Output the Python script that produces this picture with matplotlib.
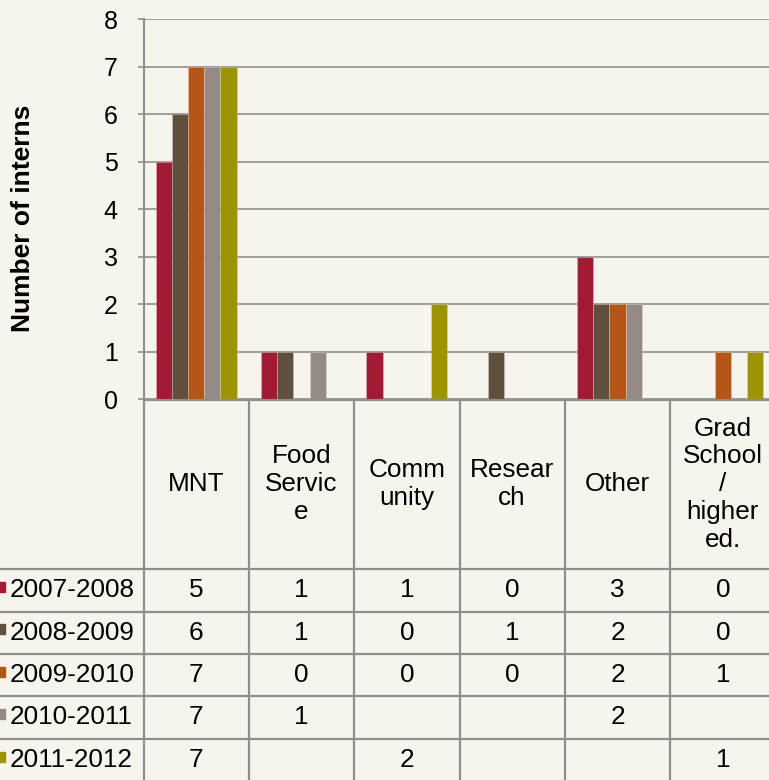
import numpy as np
import matplotlib
matplotlib.use("Agg")
import matplotlib.pyplot as plt

# data
categories = ["MNT", "Food\nServic\ne", "Comm\nunity", "Resear\nch", "Other",
              "Grad\nSchool\n/\nhigher\ned."]
years = ["2007-2008", "2008-2009", "2009-2010", "2010-2011", "2011-2012"]
v_0708 = [5, 1, 1, 0, 3, 0]
v_0809 = [6, 1, 0, 1, 2, 0]
v_0910 = [7, 0, 0, 0, 2, 1]
v_1011 = [7, 1, np.nan, np.nan, 2, np.nan]
v_1112 = [7, np.nan, 2, np.nan, np.nan, 1]
series = [v_0708, v_0809, v_0910, v_1011, v_1112]
colors = ["#A01B33", "#614F3D", "#B45618", "#958B85", "#9D9200"]
yticks = list(range(0, 9))

bg = "#F7F4EE"
line_col = "#8E8E8E"
plt.rcParams["font.family"] = ["Liberation Sans", "DejaVu Sans"]

W, H = 769, 780
fig = plt.figure(figsize=(W / 100, H / 100), dpi=100, facecolor=bg)

# pixel layout
x_left, x_right = 143.5, 775.5
y_top, y_zero = 19.3, 399.5
row_h = 42.4
ncat = len(categories)
col_w = (x_right - x_left) / ncat
fs = 18.8

ax = fig.add_axes([x_left / W, 1 - y_zero / H, (x_right - x_left) / W,
                   (y_zero - y_top) / H])
ax.set_facecolor(bg)

x = np.arange(ncat)
bw = 0.154
for i, (vals, c) in enumerate(zip(series, colors)):
    ax.bar(x + (i - 2) * bw, np.nan_to_num(vals), width=bw, color=c,
           edgecolor=(1, 1, 1, 0.25), linewidth=0.6, zorder=3)

ax.set_xlim(-0.5, ncat - 0.5)
ax.set_ylim(0, 8)
ax.set_yticks(yticks)
ax.set_xticks([])
ax.yaxis.grid(True, color=line_col, linewidth=1.2, zorder=0)
for s in ["top", "right", "bottom"]:
    ax.spines[s].set_visible(False)
ax.spines["left"].set_color(line_col)
ax.spines["left"].set_linewidth(1.5)
ax.tick_params(axis="y", length=4, color=line_col, width=1.2, pad=14.5,
               labelsize=18)
ax.set_ylabel("Number of interns", fontsize=19, fontweight="bold", va="center")
ax.yaxis.set_label_coords((23 - x_left) / (x_right - x_left),
                          (y_zero - 218) / (y_zero - y_top))

# data table below the plot
nrows = len(years)
hdr = 4
tax = fig.add_axes([x_left / W, 1 - (y_zero + (nrows + hdr) * row_h) / H,
                    (x_right - x_left) / W, (nrows + hdr) * row_h / H])
tax.set_xlim(-0.5, ncat - 0.5)
tax.set_ylim(0, nrows + hdr)
tax.axis("off")
left_edge = -0.5 - x_left / col_w

lk = dict(color=line_col, linewidth=1.6, clip_on=False)
for j in range(nrows + 1):
    tax.plot([left_edge, ncat - 0.5], [j, j], **lk)
tax.plot([-0.5, ncat - 0.5], [nrows + hdr] * 2, **lk)
for k in range(ncat + 1):
    tax.plot([k - 0.5, k - 0.5], [0, nrows + hdr], **lk)

for k, cat in enumerate(categories):
    tax.text(k, nrows + hdr / 2, cat, ha="center", va="center", fontsize=fs,
             linespacing=1.2)

for r, (yr, vals, c) in enumerate(zip(years, series, colors)):
    yc = nrows - r - 0.5
    tax.plot([left_edge], [yc + 0.08], marker="s", markersize=6.5,
             color=c, clip_on=False)
    tax.text(left_edge + 10 / col_w, yc, yr, ha="left", va="center",
             fontsize=fs)
    for k, v in enumerate(vals):
        if not np.isnan(v):
            tax.text(k, yc, str(int(v)), ha="center", va="center",
                     fontsize=fs)

fig.savefig("out.png", dpi=100, facecolor=bg)
